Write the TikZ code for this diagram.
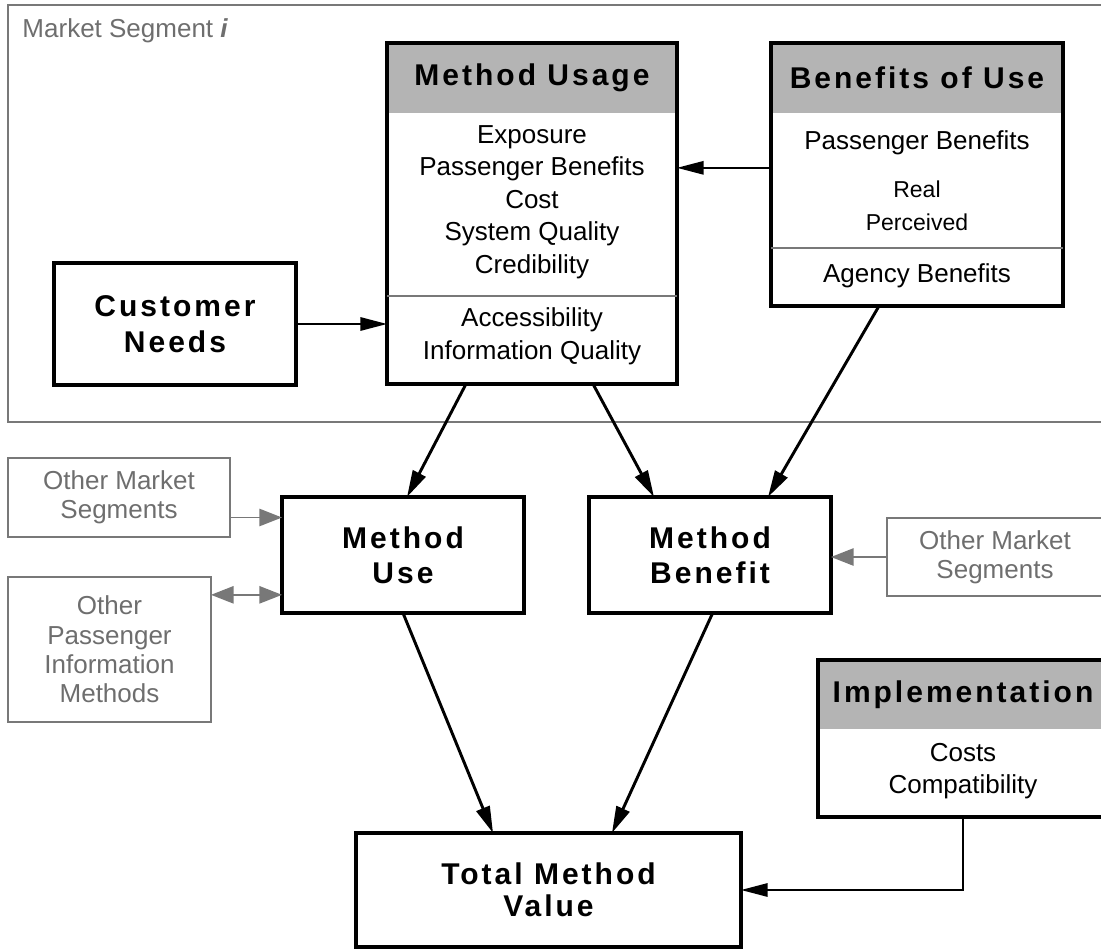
\documentclass[tikz,border=0pt]{standalone}
\usepackage{fontspec}
\setmainfont{Liberation Sans}
\newfontfamily\headfont[LetterSpace=10]{Liberation Sans}
\usetikzlibrary{arrows.meta}

\definecolor{headgray}{RGB}{180,180,180}
\definecolor{linegray}{RGB}{120,120,120}
\definecolor{textgray}{RGB}{110,110,110}

\tikzset{every picture/.style={line width=0.75pt}}
\tikzset{
  bigbox/.style={draw, line width=3pt, inner sep=0pt, outer sep=0pt, align=center, font=\headfont\bfseries\fontsize{22.5}{26.3}\selectfont},
  headbox/.style={fill=headgray, inner sep=0pt, outer sep=0pt, font=\headfont\bfseries\fontsize{22.5}{26}\selectfont},
  bodytxt/.style={align=center, inner sep=0pt, font=\fontsize{19.5}{24.4}\selectfont},
  greybox/.style={draw=linegray, line width=1.1pt, inner sep=0pt, outer sep=0pt, text=textgray, align=center, font=\fontsize{19.5}{21.5}\selectfont},
  divider/.style={draw=linegray, line width=1.2pt},
  mainarrow/.style={-{Triangle[length=20pt,width=10.5pt]}, line width=2.2pt},
  thinarrow/.style={-{Triangle[length=20pt,width=10pt]}, line width=1.5pt},
  greyarrow/.style={-{Triangle[length=17pt,width=13pt]}, draw=linegray, line width=1.3pt}
}

\begin{document}
\begin{tikzpicture}[x=0.75pt,y=0.75pt,yscale=-1,xscale=1]
\useasboundingbox (0,0) rectangle (1101,949);
\clip (0,0) rectangle (1101,949);

%Shape: Rectangle [market segment frame]
\draw [draw=linegray, line width=1.2pt] (8,5) rectangle (1115,422);
% Text Node
\draw (22,38) node [anchor=base west, inner sep=0pt, text=textgray, font=\fontsize{19.5}{24}\selectfont] (segtitle) {Market Segment {\bfseries\itshape i}};

%Shape: Method Usage
\draw (532,78) node [headbox, minimum width=217.5pt, minimum height=52.5pt] (usagehead) {Method Usage};
\draw (532,213.5) node [bigbox, minimum width=217.5pt, minimum height=255.75pt] (usage) {};
\draw [divider] (usage.west |- 0,296) -- (usage.east |- 0,296);
% Text Node
\draw (532,202) node [bodytxt] (usagetxt) {Exposure\\Passenger Benefits\\Cost\\System Quality\\Credibility};
% Text Node
\draw (532,336.5) node [bodytxt] (usagetxtb) {Accessibility\\Information Quality};

%Shape: Benefits of Use
\draw (917,78) node [headbox, minimum width=219pt, minimum height=52.5pt] (benefithead) {Benefits of Use};
\draw (917,174.5) node [bigbox, minimum width=219pt, minimum height=197.25pt] (benefit) {};
\draw [divider] (benefit.west |- 0,248) -- (benefit.east |- 0,248);
% Text Node
\draw (917,143) node [bodytxt] (benefittxt) {Passenger Benefits};
% Text Node
\draw (917,205.5) node [bodytxt, font=\fontsize{17.25}{24.75}\selectfont] (benefittxtb) {Real\\Perceived};
% Text Node
\draw (917,276) node [bodytxt] (benefittxtc) {Agency Benefits};

%Shape: Customer Needs
\draw (175,324) node [bigbox, minimum width=181.5pt, minimum height=91.5pt, font=\headfont\bfseries\fontsize{22.5}{27}\selectfont] (needs) {Customer\\Needs};

%Shape: Method Use / Method Benefit
\draw (403,555) node [bigbox, minimum width=181.5pt, minimum height=87pt] (use) {Method\\Use};
\draw (710,555) node [bigbox, minimum width=181.5pt, minimum height=87pt] (mbenefit) {Method\\Benefit};

%Shape: Total Method Value
\draw (548.5,890) node [bigbox, minimum width=288.75pt, minimum height=85.5pt, font=\headfont\bfseries\fontsize{22.5}{24}\selectfont] (total) {Total Method\\Value};

%Shape: Implementation
\draw (963,694.5) node [headbox, minimum width=217.5pt, minimum height=51.75pt] (implhead) {Implementation};
\draw (963,738.5) node [bigbox, minimum width=217.5pt, minimum height=117.75pt] (impl) {};
% Text Node
\draw (963,771) node [bodytxt, font=\fontsize{19.5}{24}\selectfont] (impltxt) {Costs\\Compatibility};

%Shape: other (grey) boxes
\draw (119,497.5) node [greybox, minimum width=166.5pt, minimum height=59.25pt] (segl) {Other Market\\Segments};
\draw (109.5,649.5) node [greybox, minimum width=152.25pt, minimum height=108.75pt, font=\fontsize{19.5}{22}\selectfont] (others) {Other\\Passenger\\Information\\Methods};
\draw (995,557) node [greybox, minimum width=162pt, minimum height=58.5pt] (segr) {Other Market\\Segments};

%Straight Lines
\draw [thinarrow] (needs.east) -- (needs.east -| usage.west);
\draw [thinarrow] ([yshift=-5pt]benefit.west) -- ([yshift=-5pt]benefit.west -| usage.east);
\draw [mainarrow] ([xshift=-49.5pt]usage.south) -- ([xshift=3pt]use.north);
\draw [mainarrow] ([xshift=45.75pt]usage.south) -- ([xshift=-42pt]mbenefit.north);
\draw [mainarrow] ([xshift=-28.5pt]benefit.south) -- ([xshift=43.5pt]mbenefit.north);
\draw [mainarrow] (use.south) -- ([xshift=-41.6pt]total.north);
\draw [mainarrow] ([xshift=2pt]mbenefit.south) -- ([xshift=47.6pt]total.north);
\draw [thinarrow] (impl.south) |- (total.east);

%Straight Lines (grey)
\draw [greyarrow] ([yshift=15pt]segl.east) -- ([yshift=15pt]segl.east -| use.west);
\draw [greyarrow, {Triangle[length=17pt,width=13pt]}-{Triangle[length=17pt,width=13pt]}] ([yshift=-41pt]others.east) -- ([yshift=-41pt]others.east -| use.west);
\draw [greyarrow] (segr.west) -- (segr.west -| mbenefit.east);

\end{tikzpicture}
\end{document}
